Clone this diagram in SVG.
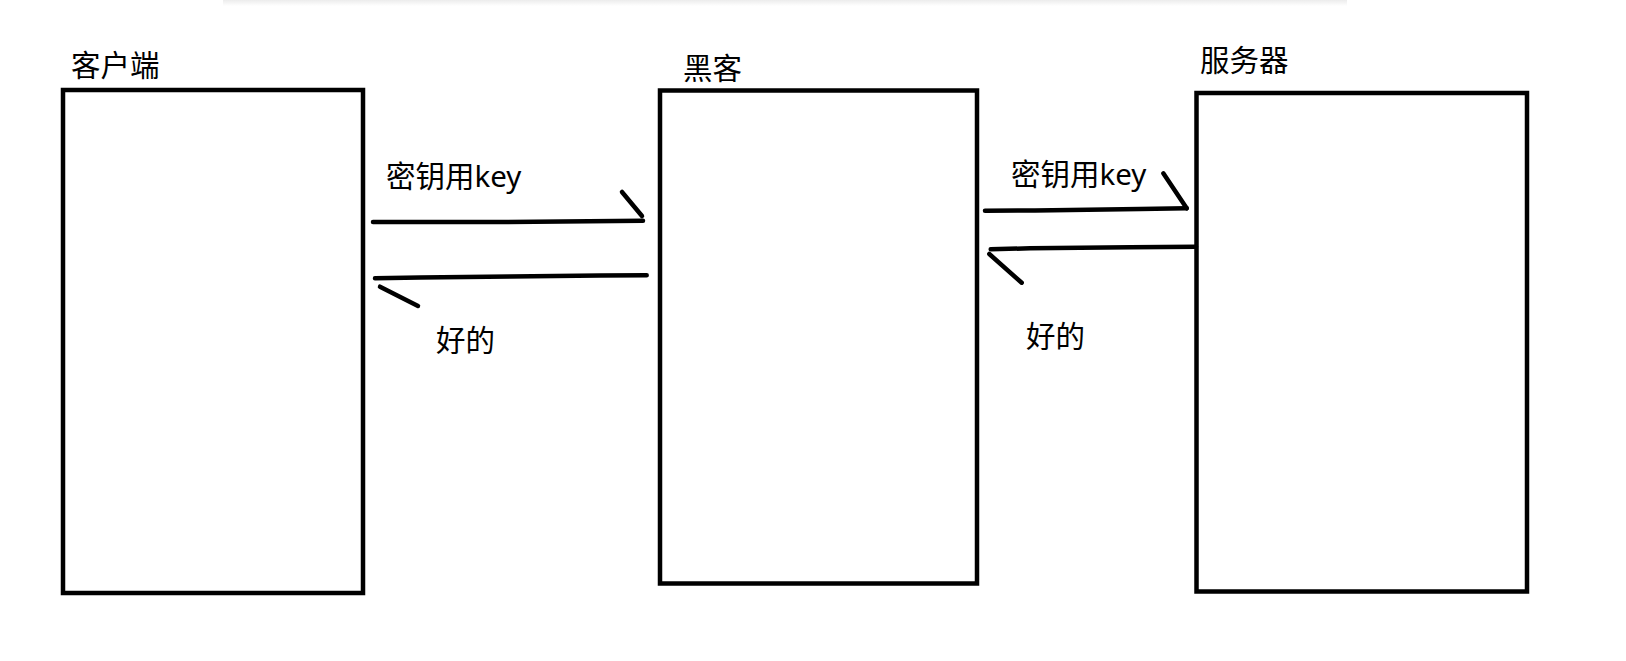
<svg xmlns="http://www.w3.org/2000/svg" width="1626" height="661" viewBox="0 0 1626 661">
  <defs>
    <linearGradient id="shadow" x1="0" y1="0" x2="0" y2="1">
      <stop offset="0" stop-color="#ececec"/>
      <stop offset="1" stop-color="#ffffff"/>
    </linearGradient>
    <style>
      .box { fill: #ffffff; stroke: #000000; stroke-width: 4.5; }
      .label { font-family: "Noto Sans", "Noto Sans CJK SC", sans-serif; font-size: 29.5px; fill: #000000; }
      .line { fill: none; stroke: #000000; stroke-width: 4.5; stroke-linecap: round; stroke-linejoin: round; }
    </style>
  </defs>
  <rect x="0" y="0" width="1626" height="661" fill="#ffffff"/>
  <rect x="223" y="0" width="1124" height="6" fill="url(#shadow)"/>

  <g id="client">
    <rect class="box" x="63" y="90" width="300" height="503"/>
    <text class="label" x="71" y="76">客户端</text>
  </g>
  <g id="hacker">
    <rect class="box" x="660" y="90.5" width="317" height="493"/>
    <text class="label" x="683" y="78.5">黑客</text>
  </g>
  <g id="server">
    <rect class="box" x="1196.5" y="93" width="330.5" height="498.5"/>
    <text class="label" x="1200" y="71">服务器</text>
  </g>

  <g id="connectors">
    <path class="line" d="M373 222 L508 222 L643 220.7"/>
    <path class="line" d="M622 192 L642 216"/>
    <text class="label" x="386" y="187">密钥用key</text>

    <path class="line" d="M375 278.3 L420 277.5 L510 276.5 L600 275.5 L646.7 275.3"/>
    <path class="line" d="M380 286.7 L418 306"/>
    <text class="label" x="436" y="351">好的</text>

    <path class="line" d="M985 210.7 L1035 210.5 L1140 209 L1186.7 208.3"/>
    <path class="line" d="M1163.3 173.3 L1186.7 208.3"/>
    <text class="label" x="1011" y="185">密钥用key</text>

    <path class="line" d="M990.7 249.3 L1030 248.3 L1130 247.3 L1196 246.7"/>
    <path class="line" d="M989.3 254 L1021.7 282.7"/>
    <text class="label" x="1026" y="347">好的</text>
  </g>
</svg>
